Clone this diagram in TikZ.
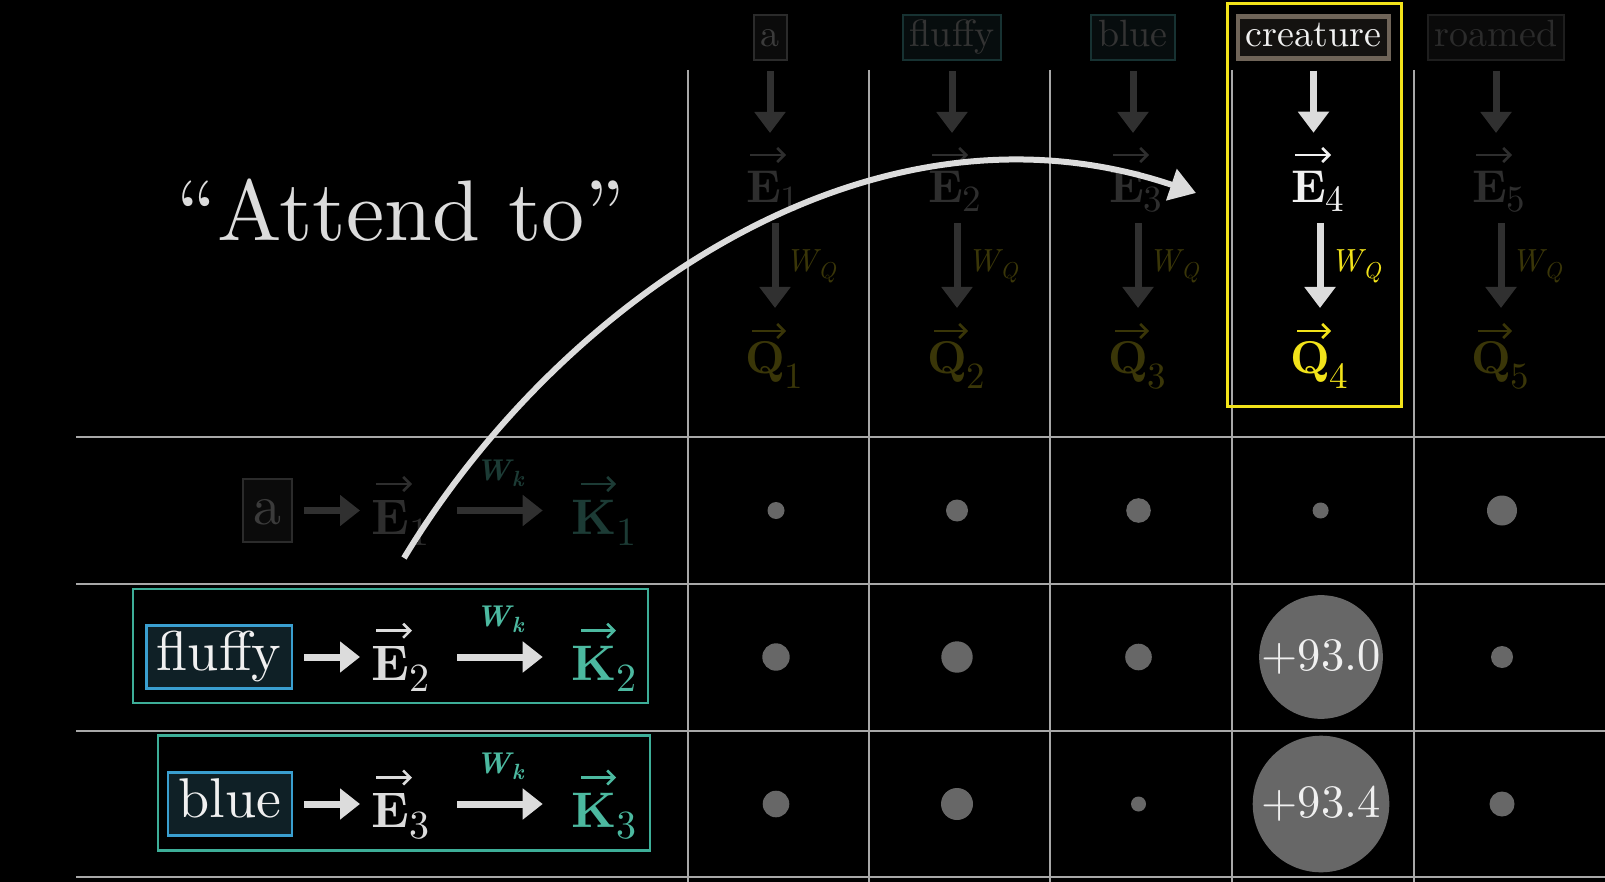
\documentclass[tikz,border=0pt]{standalone}
\usepackage{fontspec}
\setmainfont{lmroman10-regular.otf}[BoldFont=lmroman10-bold.otf, ItalicFont=lmroman10-italic.otf, BoldItalicFont=lmroman10-bolditalic.otf, Ligatures=TeX]
\usetikzlibrary{arrows.meta,calc}
\definecolor{gridc}{HTML}{A8A8A8}
\definecolor{dotc}{HTML}{676767}
\definecolor{bright}{HTML}{DCDCDC}
\definecolor{whitet}{HTML}{F0F0F0}
\definecolor{fadeA}{HTML}{303030}
\definecolor{fadeE}{HTML}{2E2E2E}
\definecolor{fadeQ}{HTML}{3A3608}
\definecolor{yel}{HTML}{F2E31A}
\definecolor{tealc}{HTML}{4CB9A0}
\definecolor{tealbd}{HTML}{3DAE98}
\definecolor{fadeteal}{HTML}{1C3B35}
\definecolor{wordbd}{HTML}{3A9FD0}
\definecolor{wordfill}{HTML}{0F2026}
\definecolor{crebd}{HTML}{6F6458}
\definecolor{crefill}{HTML}{141210}
\definecolor{hAbd}{HTML}{2B2B2B}
\definecolor{hAfill}{HTML}{0B0B0B}
\definecolor{hAtext}{HTML}{3B3B3B}
\definecolor{hBbd}{HTML}{173232}
\definecolor{hBfill}{HTML}{070D0E}
\definecolor{hBtext}{HTML}{333333}
\definecolor{hCbd}{HTML}{1E1E1E}
\definecolor{hCfill}{HTML}{0A0A0A}
\definecolor{hCtext}{HTML}{2B2B2B}
% top-column vector label (46pt letter, 37pt index)
\newcommand\vlabtop[3][8.5pt]{\textbf{#2}\raisebox{-#1}{\fontsize{37}{38}\selectfont #3}}
% row vector label (50pt letter, 40pt index)
\newcommand\vlabrow[2]{\textbf{#1}\raisebox{-11pt}{\fontsize{40}{42}\selectfont #2}}
\newcommand\wlab[1]{\textit{W}\kern-3pt\raisebox{-6.5pt}{\fontsize{23}{24}\selectfont\textit{#1}}}
\newcommand\wblab[1]{\textbf{\textit{W}}\kern-2pt\raisebox{-6pt}{\fontsize{22}{23}\selectfont\textbf{\textit{#1}}}}
\begin{document}
\begin{tikzpicture}[x=1pt,y=-1pt,
  every node/.style={inner sep=0pt},
  gridline/.style={gridc, line width=2pt},
  dot/.style={circle, fill=dotc, inner sep=0pt},
  hdr/.style={font=\fontsize{38}{40}\selectfont, inner xsep=7pt, inner ysep=4.5pt,
    text height=27pt, text depth=9pt, line width=2pt},
  hdrA/.style={draw=hAbd, fill=hAfill, text=hAtext},
  hdrB/.style={draw=hBbd, fill=hBfill, text=hBtext},
  hdrC/.style={draw=hCbd, fill=hCfill, text=hCtext},
  toplab/.style={font=\fontsize{46}{48}\selectfont, anchor=base west},
  rowlab/.style={font=\fontsize{50}{52}\selectfont, anchor=base west},
  vecarr/.style={line width=2.6pt, -{Straight Barb[length=7pt,width=14pt]}},
  wq/.style={font=\fontsize{32}{34}\selectfont},
  wk/.style={font=\fontsize{30}{32}\selectfont, text=tealc},
  fatarrow/.style={line width=7pt, -{Triangle[length=21pt,width=30pt]}},
  rowarrow/.style={line width=7pt, -{Triangle[length=20pt,width=30pt]}},
  wordbox/.style={font=\fontsize{56}{60}\selectfont, inner xsep=10.5pt, inner ysep=5pt,
    text height=40pt, text depth=13pt, line width=2.5pt},
  tealbox/.style={draw=tealbd, line width=2.5pt},
  score/.style={font=\fontsize{46.5}{50}\selectfont, text=whitet},
  bigarrow/.style={bright, line width=6pt, -{Triangle[length=26pt,width=32pt]}}
]
\fill[black] (0,0) rectangle (1605,882);
\useasboundingbox (0,0) rectangle (1605,882);

% grid
\foreach \x in {688,869,1050,1232,1414}
  \draw[gridline] (\x,70) -- (\x,882);
\foreach \y in {437,584,731,877}
  \draw[gridline] (76,\y) -- (1605,\y);

% row centres
\coordinate (r1) at (0,510.5);
\coordinate (r2) at (0,657);
\coordinate (r3) at (0,804);

% dots
\node[dot, minimum size=17pt]   (d11) at (776,510.5) {};
\node[dot, minimum size=22pt]   (d12) at (957,510.5) {};
\node[dot, minimum size=24.6pt] (d13) at (1138.5,510.5) {};
\node[dot, minimum size=16pt]   (d14) at (1320.6,510.5) {};
\node[dot, minimum size=30pt]   (d15) at (1502,510.5) {};
\node[dot, minimum size=27.4pt] (d21) at (776,657) {};
\node[dot, minimum size=31.4pt] (d22) at (957,657) {};
\node[dot, minimum size=26.6pt] (d23) at (1138.5,657) {};
\node[dot, minimum size=116.6pt, score] (d24) at (1321,657) {+93.0};
\node[dot, minimum size=22pt]   (d25) at (1502,657) {};
\node[dot, minimum size=26.6pt] (d31) at (776,804) {};
\node[dot, minimum size=32pt]   (d32) at (957,804) {};
\node[dot, minimum size=15pt]   (d33) at (1138.5,804) {};
\node[dot, minimum size=136.6pt, score] (d34) at (1321,804) {+93.4};
\node[dot, minimum size=25pt]   (d35) at (1502,804) {};

% faded columns
\foreach \i/\cx/\w/\hs in {1/778/a/hdrA, 2/960/fluffy/hdrB, 3/1141/blue/hdrB, 5/1504/roamed/hdrC} {
  \node[hdr,\hs] (h\i) at (\cx-8,37.5) {\w};
  \node[toplab, text=fadeE] (e\i) at (\cx-32,203) {\vlabtop{E}{\i}};
  \node[toplab, text=fadeQ] (q\i) at (\cx-33,373) {\vlabtop[15pt]{Q}{\i}};
  \draw[vecarr, fadeE] ($(e\i.base west)+(4,-48)$) -- ++(36,0);
  \draw[vecarr, fadeQ] ($(q\i.base west)+(7,-42)$) -- ++(34,0);
  \node[wq, text=fadeQ, anchor=base west] (w\i) at (\cx+7,272) {\wlab{Q}};
  \draw[fatarrow, fadeA] ($(h\i.south)+(0,10)$) -- ($(h\i.south)+(0,72)$);
  \draw[fatarrow, fadeA] ($(e\i.base west)+(29,20)$) -- ($(e\i.base west |- q\i.base)+(29,-65)$);
}

% highlighted column
\draw[yel, line width=3pt] (1227,4) rectangle (1401,406);
\node[hdr, draw=crebd, fill=crefill, text=whitet, line width=4.5pt, inner ysep=3pt, inner xsep=8pt] (h4) at (1313.5,37.5) {creature};
\node[toplab, text=whitet] (e4) at (1291,203) {\vlabtop{E}{4}};
\node[toplab, text=yel] (q4) at (1290,373) {\vlabtop[15pt]{Q}{4}};
\draw[vecarr, whitet] ($(e4.base west)+(4,-48)$) -- ++(36,0);
\draw[vecarr, yel] ($(q4.base west)+(7,-42)$) -- ++(34,0);
\node[wq, text=yel, anchor=base west] (w4) at (1330,272) {\wlab{Q}};
\draw[fatarrow, bright] ($(h4.south)+(0,10)$) -- ($(h4.south)+(0,72)$);
\draw[fatarrow, bright] ($(e4.base west)+(29,20)$) -- ($(e4.base west |- q4.base)+(29,-65)$);

% row 1 (faded)
\node[wordbox, draw=hAbd, fill=hAfill, text=hAtext, anchor=east] (wa) at (293,510.5) {a};
\node[rowlab, text=fadeE] (ea) at (371,534) {\vlabrow{E}{1}};
\node[rowlab, text=fadeteal] (ka) at (571,534) {\vlabrow{K}{1}};
\draw[vecarr, fadeE] ($(ea.base west)+(5,-50)$) -- ++(36,0);
\draw[vecarr, fadeteal] ($(ka.base west)+(10,-50)$) -- ++(35,0);
\node[wk, text=fadeteal, anchor=base] (wka) at (500,480) {\wblab{k}};
\draw[rowarrow, fadeA] ($(wa.east)+(11,0)$) -- ($(ea.west |- r1)+(-11,0)$);
\draw[rowarrow, fadeA] ($(ea.west |- r1)+(86,0)$) -- ($(ka.west |- r1)+(-28.3,0)$);

% row 2
\node[tealbox, minimum width=515pt, minimum height=114pt] (f2) at (390.5,646) {};
\node[wordbox, draw=wordbd, fill=wordfill, text=whitet, anchor=east] (wb) at (293,657) {fluffy};
\node[rowlab, text=bright] (eb) at (371,680.7) {\vlabrow{E}{2}};
\node[rowlab, text=tealc] (kb) at (571,680.7) {\vlabrow{K}{2}};
\draw[vecarr, bright] ($(eb.base west)+(5,-50)$) -- ++(36,0);
\draw[vecarr, tealc] ($(kb.base west)+(10,-50)$) -- ++(35,0);
\node[wk, anchor=base] (wkb) at (500,626) {\wblab{k}};
\draw[rowarrow, bright] ($(wb.east)+(11,0)$) -- ($(eb.west |- r2)+(-11,0)$);
\draw[rowarrow, bright] ($(eb.west |- r2)+(86,0)$) -- ($(kb.west |- r2)+(-28.3,0)$);

% row 3
\node[tealbox, minimum width=492pt, minimum height=115pt] (f3) at (404,793) {};
\node[wordbox, draw=wordbd, fill=wordfill, text=whitet, anchor=east] (wc) at (293,804) {blue};
\node[rowlab, text=bright] (ec) at (371,827.5) {\vlabrow{E}{3}};
\node[rowlab, text=tealc] (kc) at (571,827.5) {\vlabrow{K}{3}};
\draw[vecarr, bright] ($(ec.base west)+(5,-50)$) -- ++(36,0);
\draw[vecarr, tealc] ($(kc.base west)+(10,-50)$) -- ++(35,0);
\node[wk, anchor=base] (wkc) at (500,773) {\wblab{k}};
\draw[rowarrow, bright] ($(wc.east)+(11,0)$) -- ($(ec.west |- r3)+(-11,0)$);
\draw[rowarrow, bright] ($(ec.west |- r3)+(86,0)$) -- ($(kc.west |- r3)+(-28.3,0)$);

% title
\node[font=\fontsize{86}{90}\selectfont, text=bright, anchor=base] (title) at (401,241) {``Attend to''};

% big curved arrow
\coordinate (src) at (404,558);
\coordinate (tgt) at (1196,193);
\draw[bigarrow] (src) .. controls (556,306) and (867,82) .. (tgt);
\end{tikzpicture}
\end{document}
